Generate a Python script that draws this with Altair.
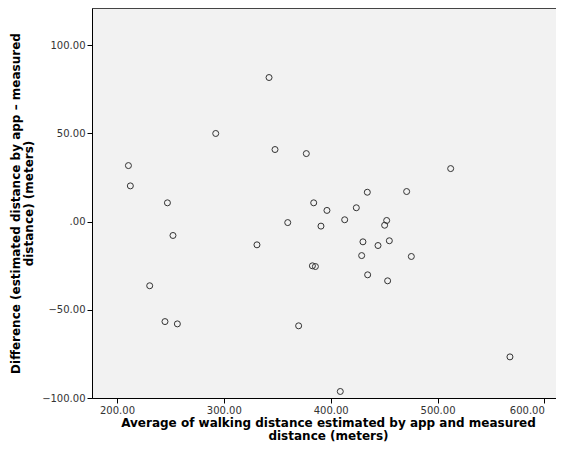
import altair as alt
import pandas as pd

avg_distance = [342.3, 292.4, 347.9, 377.2, 210.7, 512.3, 212.5, 434.3, 471.1, 247.2,
                384.1, 424.0, 396.5, 413.1, 452.4, 359.8, 450.5, 390.9, 252.4, 430.2,
                454.9, 331.0, 444.3, 429.0, 475.5, 382.9, 385.7, 434.6, 453.3, 230.6,
                244.9, 256.5, 370.0, 567.8, 409.0]
difference = [81.6, 49.9, 40.8, 38.5, 31.7, 30.0, 20.2, 16.6, 17.0, 10.6,
              10.6, 7.8, 6.3, 1.0, 0.6, -0.6, -2.1, -2.6, -7.9, -11.5,
              -10.9, -13.2, -13.6, -19.3, -19.8, -25.1, -25.5, -30.2, -33.6, -36.4,
              -56.7, -58.0, -59.1, -76.7, -96.3]

x_ticks = [200, 300, 400, 500, 600]
y_ticks = [-100, -50, 0, 50, 100]

df = pd.DataFrame({"avg": avg_distance, "diff": difference})

label_expr = "datum.value == 0 ? '.00' : format(datum.value, '.2f')"

chart = alt.Chart(df).mark_point(
    shape="circle", filled=False, size=36, color="#333333", strokeWidth=1, opacity=1
).encode(
    x=alt.X("avg:Q",
            scale=alt.Scale(domain=[176.6, 610.9], nice=False, zero=False),
            axis=alt.Axis(values=x_ticks, labelExpr=label_expr, labelFlush=15,
                          labelOverlap=False,
                          title=["Average of walking distance estimated by app and measured",
                                 "distance (meters)"],
                          titleFontSize=12, titleLineHeight=13,
                          titlePadding=2, titleX=236)),
    y=alt.Y("diff:Q",
            scale=alt.Scale(domain=[-100, 121], nice=False, zero=False),
            axis=alt.Axis(values=y_ticks, labelExpr=label_expr,
                          title=["Difference (estimated distance by app – measured",
                                 "distance) (meters)"],
                          titleFontSize=12, titleLineHeight=13, titlePadding=6)),
).properties(
    width=464, height=390,
    autosize=alt.AutoSizeParams(type="none"),
    padding={"left": 84, "top": 0, "right": 0, "bottom": 46},
).configure_view(
    fill="#f2f2f2", stroke="#444444", strokeWidth=1
).configure_axis(
    grid=False,
    domainColor="#000000", domainWidth=1,
    tickColor="#000000", tickSize=5, tickWidth=1,
    labelFont="DejaVu Sans", labelFontSize=10, labelColor="#333333", labelPadding=2,
    titleFont="DejaVu Sans", titleFontWeight="bold", titleColor="#000000",
)

chart.save("out.html", embed_options={"renderer": "svg", "actions": False})
